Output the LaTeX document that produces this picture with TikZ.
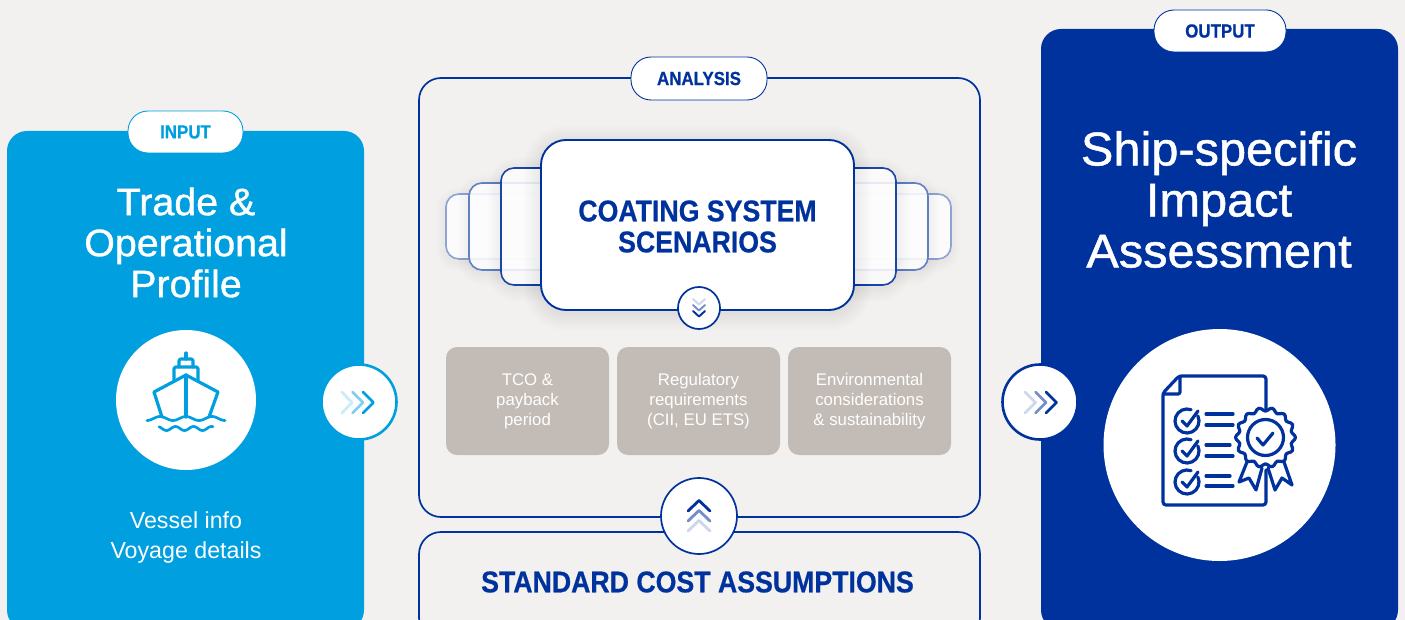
\documentclass[tikz,border=0pt]{standalone}
\usepackage{fontspec}
\setmainfont{Liberation Sans}
\newfontfamily\headfont{Liberation Sans Bold}[FakeStretch=0.89,FakeBold=0.6]
\newfontfamily\titlefont{Liberation Sans}[FakeStretch=1.03,FakeBold=1.0]
\definecolor{bgc}{HTML}{F3F1EF}
\definecolor{cyanc}{HTML}{009FDF}
\definecolor{navyc}{HTML}{00329E}
\definecolor{taupe}{HTML}{C3BBB5}
\newcommand{\fsz}[2]{\fontsize{#1}{#2}\selectfont}
\newcommand{\softshadow}[6]{%
  \foreach \i in {1,...,#6}{
    \fill[black,opacity=0.005,rounded corners=#5+\i] (#1-\i,#2-\i+3) rectangle (#3+\i,#4+\i+3);
  }}
\newcommand{\chev}[7]{\draw[chevron,#7] (#1,#2) -- (#3,#4) -- (#5,#6);}
\tikzset{
  box/.style={inner sep=0pt,outer sep=0pt,align=center,rectangle},
  panel/.style={box,rounded corners=20pt},
  frame/.style={box,draw=navyc,line width=1.7pt,fill=bgc,rounded corners=22pt},
  pill/.style={box,fill=white,rounded corners=20pt,line width=0.9pt,font=\fsz{19}{20}\headfont},
  hub/.style={circle,inner sep=0pt,outer sep=0pt,fill=white,minimum size=#1},
  layer/.style={box,fill=white,fill opacity=0.86,rounded corners=13pt,line width=1.6pt},
  tile/.style={box,fill=taupe,rounded corners=11pt,minimum width=163pt,minimum height=108pt,text=white,font=\fsz{16.8}{20}},
  chevron/.style={line width=2.8pt,line cap=round,line join=round},
  iconline/.style={line width=3.2pt,line cap=round,line join=round},
  titletext/.style={box,text=white},
}
\begin{document}
\begin{tikzpicture}[x=1pt,y=-1pt]
\useasboundingbox (0,0) rectangle (1405,620);
\clip (0,0) rectangle (1405,620);
\fill[bgc] (0,0) rectangle (1405,620);

% INPUT panel
\node[panel,fill=cyanc,minimum width=357pt,minimum height=499pt] (inputpanel) at (185.5,380.5) {};
\node[pill,draw=cyanc,text=cyanc,minimum width=115pt,minimum height=42pt] (inputpill) at (185.5,132) {INPUT};
\node[titletext,font=\fsz{38.2}{41}\titlefont] (inputtitle) at (186,242.5) {Trade \&\\Operational\\Profile};
\node[hub=140pt] (shipcircle) at (186,400) {};
\node[titletext,font=\fsz{23.2}{30}] (inputtext) at (186,537) {Vessel info\\Voyage details};

% ship icon
\begin{scope}[iconline,draw=cyanc]
  \draw (162,417) -- (154,392) -- (186,375) -- (218,392) -- (209,417);
  \draw (186,375) -- (186,417);
  \draw[rounded corners=2pt] (174,380) -- (174,367) -- (198,367) -- (198,380);
  \draw[rounded corners=2pt] (179,367) -- (179,359) -- (193,359) -- (193,367);
  \draw (186,359) -- (186,353);
  \draw[smooth,samples=60,domain=147:225,line width=2.7pt] plot (\x,{418.5+2*sin(13.85*(\x-147)+90)});
  \draw[smooth,samples=60,domain=159:213,line width=2.7pt] plot (\x,{428.5+2*sin(20*(\x-159)-60)});
\end{scope}

% arrow input -> analysis
\node[hub=75pt,draw=cyanc,line width=2.6pt] (arrowin) at (359,402) {};
\chev{342}{392}{352}{402.5}{342}{413}{cyanc!20}
\chev{352.5}{392}{363}{402.5}{352.5}{413}{cyanc!50}
\chev{363}{392}{373.5}{402.5}{363}{413}{cyanc}

% ANALYSIS frame
\node[frame,minimum width=561pt,minimum height=439pt] (analysisframe) at (699.5,297.5) {};
\node[pill,draw=navyc,text=navyc,minimum width=136pt,minimum height=43pt] (analysispill) at (699,78.5) {ANALYSIS};

% layered scenario cards
\softshadow{446}{194}{951}{259}{13}{10}
\node[layer,draw=navyc!45,minimum width=505pt,minimum height=65pt] (layera) at (698.5,226.5) {};
\softshadow{469}{183}{928}{270}{14}{12}
\node[layer,draw=navyc!62,minimum width=459pt,minimum height=87pt] (layerb) at (698.5,226.5) {};
\softshadow{501}{168}{896}{285}{16}{14}
\node[layer,draw=navyc!90,minimum width=395pt,minimum height=117pt] (layerc) at (698.5,226.5) {};
\softshadow{541}{140}{854}{310}{25}{18}
\node[box,fill=white,draw=navyc,line width=1.9pt,rounded corners=25pt,minimum width=313pt,minimum height=170pt] (scenarios) at (697.5,225) {};
\node[box,text=navyc,font=\fsz{30}{31}\headfont] (scenariotext) at (697.5,226.5) {COATING SYSTEM\\SCENARIOS};
\node[hub=42pt,draw=navyc,line width=1.7pt] (downhub) at (699,308) {};
\chev{693}{299}{699}{304.5}{705}{299}{navyc!20,line width=1.9pt}
\chev{693}{305}{699}{310.5}{705}{305}{navyc!55,line width=1.9pt}
\chev{693}{311}{699}{316.5}{705}{311}{navyc,line width=1.9pt}

% tiles
\node[tile] (tco) at (527.5,401) {TCO \&\\payback\\period};
\node[tile] (reg) at (698.5,401) {Regulatory\\requirements\\(CII, EU ETS)};
\node[tile] (env) at (869.5,401) {Environmental\\considerations\\\& sustainability};

% standard cost
\node[frame,minimum width=561pt,minimum height=108pt] (costframe) at (699.5,586) {};
\node[box,text=navyc,font=\fsz{30}{30}\headfont] (costtext) at (697.5,582) {STANDARD COST ASSUMPTIONS};
\node[hub=76pt,draw=navyc,line width=1.7pt] (uphub) at (699,516) {};
\chev{688}{511}{699}{500.5}{710}{511}{navyc}
\chev{688}{521}{699}{510.5}{710}{521}{navyc!55}
\chev{688}{531}{699}{520.5}{710}{531}{navyc!20}

% OUTPUT panel
\node[panel,fill=navyc,minimum width=357pt,minimum height=601pt] (outputpanel) at (1219.5,329.5) {};
\node[pill,draw=navyc,text=navyc,minimum width=132pt,minimum height=42pt] (outputpill) at (1220,31) {OUTPUT};
\node[titletext,font=\fsz{47.3}{51}\titlefont] (outputtitle) at (1219,199.5) {Ship-specific\\Impact\\Assessment};
\node[hub=232pt] (doccircle) at (1219.5,445) {};

% arrow analysis -> output
\node[hub=75pt,draw=navyc,line width=2.6pt] (arrowout) at (1040,402) {};
\chev{1025}{392}{1035.5}{402.5}{1025}{413}{navyc!20}
\chev{1035.5}{392}{1046}{402.5}{1035.5}{413}{navyc!55}
\chev{1046}{392}{1056.5}{402.5}{1046}{413}{navyc}

% document icon
\begin{scope}[iconline,draw=navyc]
  \draw[rounded corners=3pt] (1266,409) -- (1266,376) -- (1179,376) -- (1163,393) -- (1163,505) -- (1266,505) -- (1266,470);
  \draw[rounded corners=2pt] (1180,376) -- (1180,394) -- (1163,394);
  \foreach \cy in {421,451,482}{
    \begin{scope}[shift={(1187,\cy)}]
      \draw (-25:12) arc[start angle=-25,end angle=290,radius=12];
      \draw (-5,0) -- (0,5) -- (11,-10);
    \end{scope}
  }
  \draw (1206,414) -- (1233,414);
  \draw (1206,425) -- (1233,425);
  \draw (1206,445) -- (1230,445);
  \draw (1206,456) -- (1233,456);
  \draw (1206,476) -- (1230,476);
  \draw (1206,486) -- (1233,486);
  \draw plot[smooth cycle,samples=84,domain=0:355.7] ({1265.5+(28.2+1.8*cos(14*\x))*cos(\x)},{437.5+(28.2+1.8*cos(14*\x))*sin(\x)});
  \draw (1265.5,437.5) circle[radius=18];
  \draw (1257,438) -- (1263,445) -- (1273,433);
  \draw (1247,462) -- (1239,482) -- (1249,478) -- (1256,490) -- (1262,468);
  \draw (1268,468) -- (1275,490) -- (1282,478) -- (1292,485) -- (1284,462);
\end{scope}
\end{tikzpicture}
\end{document}
